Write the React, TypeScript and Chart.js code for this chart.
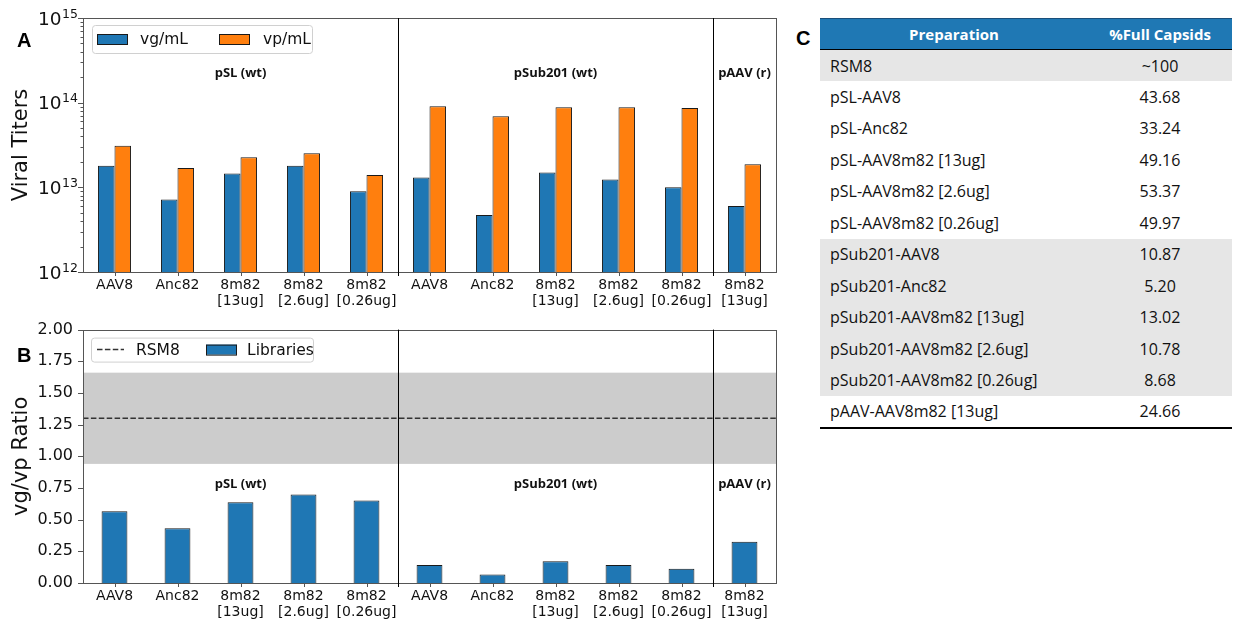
import React, { useEffect, useRef } from 'react';
import { Chart, registerables } from 'chart.js';
Chart.register(...registerables);

// ---------- data ----------
const categoryLabels: string[][] = [
  ['AAV8'], ['Anc82'], ['8m82', '[13ug]'], ['8m82', '[2.6ug]'], ['8m82', '[0.26ug]'],
  ['AAV8'], ['Anc82'], ['8m82', '[13ug]'], ['8m82', '[2.6ug]'], ['8m82', '[0.26ug]'],
  ['8m82', '[13ug]'],
];
const groupNames = ['pSL (wt)', 'pSub201 (wt)', 'pAAV (r)'];
const groupSizes = [5, 5, 1];

const vgPerMl = [1.8e13, 7.2e12, 1.46e13, 1.8e13, 9.0e12, 1.31e13, 4.7e12, 1.5e13, 1.24e13, 1.0e13, 6.0e12];
const vpPerMl = [3.1e13, 1.69e13, 2.27e13, 2.53e13, 1.4e13, 9.1e13, 6.9e13, 8.8e13, 8.8e13, 8.65e13, 1.87e13];
const vgVpRatio = [0.567, 0.433, 0.638, 0.698, 0.651, 0.142, 0.068, 0.171, 0.142, 0.113, 0.325];

const rsm8Label = 'RSM8';
const rsm8Ratio = 1.3;
const rsm8Low = 0.94;
const rsm8High = 1.66;

const titerTickExponents = [12, 13, 14, 15];
const ratioTickValues = [0, 0.25, 0.5, 0.75, 1.0, 1.25, 1.5, 1.75, 2.0];

const preparations = [
  'RSM8', 'pSL-AAV8', 'pSL-Anc82', 'pSL-AAV8m82 [13ug]', 'pSL-AAV8m82 [2.6ug]', 'pSL-AAV8m82 [0.26ug]',
  'pSub201-AAV8', 'pSub201-Anc82', 'pSub201-AAV8m82 [13ug]', 'pSub201-AAV8m82 [2.6ug]',
  'pSub201-AAV8m82 [0.26ug]', 'pAAV-AAV8m82 [13ug]',
];
const fullCapsids = ['~100', '43.68', '33.24', '49.16', '53.37', '49.97', '10.87', '5.20', '13.02', '10.78', '8.68', '24.66'];
const shadedRows = [true, false, false, false, false, false, true, true, true, true, true, false];

// ---------- style ----------
const FONT = "'DejaVu Sans', sans-serif";
const BLUE = '#1f77b4';
const ORANGE = '#ff7f0e';
const EDGE = '#1a1a1a';
const TEXT = '#111';

type LegendItem = { kind: 'box' | 'dash'; color: string; label: string; sx: number; sw: number; tx: number };
type DecorCfg = {
  logScale: boolean;
  groupLabelValue: number;
  legend: { dx: number; dy: number; w: number; h: number; items: LegendItem[] };
  band?: [number, number];
  dashed?: number;
};

function makeDecor(cfg: DecorCfg) {
  return {
    id: 'decor',
    beforeDatasetsDraw(chart: any) {
      const { ctx, chartArea } = chart;
      const y = chart.scales.y;
      if (cfg.band) {
        const yTop = y.getPixelForValue(cfg.band[1]);
        const yBot = y.getPixelForValue(cfg.band[0]);
        ctx.save();
        ctx.fillStyle = 'rgba(128,128,128,0.4)';
        ctx.fillRect(chartArea.left, yTop, chartArea.right - chartArea.left, yBot - yTop);
        ctx.restore();
      }
    },
    afterDraw(chart: any) {
      const { ctx, chartArea } = chart;
      const x = chart.scales.x;
      const y = chart.scales.y;
      const { left, right, top, bottom } = chartArea;
      ctx.save();

      if (cfg.dashed !== undefined) {
        const yy = y.getPixelForValue(cfg.dashed);
        ctx.strokeStyle = '#333';
        ctx.lineWidth = 1.5;
        ctx.setLineDash([5.5, 2.4]);
        ctx.beginPath();
        ctx.moveTo(left, yy);
        ctx.lineTo(right, yy);
        ctx.stroke();
        ctx.setLineDash([]);
      }

      // frame
      ctx.strokeStyle = '#555';
      ctx.lineWidth = 1;
      ctx.strokeRect(Math.round(left) + 0.5, Math.round(top) + 0.5, Math.round(right - left), Math.round(bottom - top));

      // y ticks
      ctx.beginPath();
      if (cfg.logScale) {
        const last = titerTickExponents[titerTickExponents.length - 1];
        for (let e = titerTickExponents[0]; e <= last; e++) {
          const py = Math.round(y.getPixelForValue(Math.pow(10, e))) + 0.5;
          ctx.moveTo(left - 5, py);
          ctx.lineTo(left, py);
          if (e < last) {
            for (let k = 2; k <= 9; k++) {
              const pm = Math.round(y.getPixelForValue(k * Math.pow(10, e))) + 0.5;
              ctx.moveTo(left - 2.5, pm);
              ctx.lineTo(left, pm);
            }
          }
        }
      } else {
        ratioTickValues.forEach((v) => {
          const py = Math.round(y.getPixelForValue(v)) + 0.5;
          ctx.moveTo(left - 5, py);
          ctx.lineTo(left, py);
        });
      }
      // x ticks
      categoryLabels.forEach((_, i) => {
        const px = Math.round(x.getPixelForValue(i)) + 0.5;
        ctx.moveTo(px, bottom);
        ctx.lineTo(px, bottom + 4);
      });
      ctx.stroke();

      if (cfg.logScale) {
        ctx.fillStyle = TEXT;
        ctx.textBaseline = 'alphabetic';
        ctx.textAlign = 'right';
        titerTickExponents.forEach((e) => {
          const py = y.getPixelForValue(Math.pow(10, e));
          const exp = String(e);
          ctx.font = `12.5px ${FONT}`;
          const ew = ctx.measureText(exp).width;
          const rx = left - 5;
          ctx.fillText(exp, rx, py - 0.5);
          ctx.font = `18.5px ${FONT}`;
          ctx.fillText('10', rx - ew - 0.5, py + 6.5);
        });
      }

      // group dividers + labels
      let start = 0;
      ctx.fillStyle = '#111';
      ctx.font = "bold 13px 'Open Sans', sans-serif";
      ctx.textAlign = 'center';
      ctx.textBaseline = 'middle';
      const ly = y.getPixelForValue(cfg.groupLabelValue);
      groupSizes.forEach((size, g) => {
        const end = start + size - 1;
        const cx = (x.getPixelForValue(start) + x.getPixelForValue(end)) / 2;
        ctx.fillText(groupNames[g], cx, ly);
        if (g < groupSizes.length - 1) {
          const dx = Math.round((x.getPixelForValue(end) + x.getPixelForValue(end + 1)) / 2) + 0.5;
          ctx.strokeStyle = '#000';
          ctx.lineWidth = 1;
          ctx.beginPath();
          ctx.moveTo(dx, top);
          ctx.lineTo(dx, bottom + 4);
          ctx.stroke();
        }
        start = end + 1;
      });

      // legend
      const L = cfg.legend;
      const lx = left + L.dx;
      const lyTop = top + L.dy;
      ctx.fillStyle = 'rgba(255,255,255,0.85)';
      ctx.strokeStyle = '#d0d0d0';
      ctx.lineWidth = 1;
      ctx.beginPath();
      (ctx as any).roundRect(lx + 0.5, lyTop + 0.5, L.w, L.h, 3);
      ctx.fill();
      ctx.stroke();
      const cy = lyTop + L.h / 2;
      ctx.font = `15.5px ${FONT}`;
      ctx.textAlign = 'left';
      ctx.textBaseline = 'middle';
      L.items.forEach((it) => {
        if (it.kind === 'box') {
          ctx.fillStyle = it.color;
          ctx.fillRect(lx + it.sx, cy - 5, it.sw, 10);
          ctx.strokeStyle = EDGE;
          ctx.strokeRect(lx + it.sx + 0.5, cy - 5 + 0.5, it.sw - 1, 10);
        } else {
          ctx.strokeStyle = it.color;
          ctx.lineWidth = 1.5;
          ctx.setLineDash([5.5, 2.4]);
          ctx.beginPath();
          ctx.moveTo(lx + it.sx, cy);
          ctx.lineTo(lx + it.sx + it.sw, cy);
          ctx.stroke();
          ctx.setLineDash([]);
          ctx.lineWidth = 1;
        }
        ctx.fillStyle = TEXT;
        ctx.fillText(it.label, lx + it.tx, cy + 1);
      });
      ctx.restore();
    },
  };
}

const xScale = (height: number) => ({
  grid: { display: false, drawTicks: false },
  border: { display: false },
  ticks: { font: { family: FONT, size: 14, lineHeight: 1.1 }, color: TEXT, padding: 6, maxRotation: 0, autoSkip: false },
  afterFit: (s: any) => { s.height = height; },
});

function TiterChart() {
  const ref = useRef<HTMLCanvasElement>(null);
  useEffect(() => {
    const chart = new Chart(ref.current!, {
      type: 'bar',
      data: {
        labels: categoryLabels as any,
        datasets: [
          { label: 'vg/mL', data: vgPerMl, backgroundColor: BLUE, borderColor: EDGE, borderWidth: 1, categoryPercentage: 0.525, barPercentage: 1 },
          { label: 'vp/mL', data: vpPerMl, backgroundColor: ORANGE, borderColor: EDGE, borderWidth: 1, categoryPercentage: 0.525, barPercentage: 1 },
        ],
      },
      options: {
        responsive: false,
        animation: false,
        layout: { padding: { top: 18, right: 14, left: 0, bottom: 0 } },
        plugins: { legend: { display: false }, tooltip: { enabled: false } },
        scales: {
          x: xScale(38) as any,
          y: {
            type: 'logarithmic',
            min: Math.pow(10, titerTickExponents[0]),
            max: Math.pow(10, titerTickExponents[titerTickExponents.length - 1]),
            grid: { display: false, drawTicks: false },
            border: { display: false },
            ticks: { display: false },
            title: { display: true, text: 'Viral Titers', font: { family: FONT, size: 21 }, color: TEXT, padding: { top: 9, bottom: 0 } },
            afterFit: (s: any) => { s.width = 83; },
          } as any,
        },
      },
      plugins: [
        makeDecor({
          logScale: true,
          groupLabelValue: 2.2e14,
          legend: {
            dx: 9, dy: 7, w: 220, h: 28,
            items: [
              { kind: 'box', color: BLUE, label: 'vg/mL', sx: 5, sw: 31, tx: 48 },
              { kind: 'box', color: ORANGE, label: 'vp/mL', sx: 127, sw: 31, tx: 171 },
            ],
          },
        }),
      ],
    });
    return () => chart.destroy();
  }, []);
  return <canvas ref={ref} width={790} height={310} style={{ display: 'block', width: 790, height: 310 }} />;
}

function RatioChart() {
  const ref = useRef<HTMLCanvasElement>(null);
  useEffect(() => {
    const chart = new Chart(ref.current!, {
      type: 'bar',
      data: {
        labels: categoryLabels as any,
        datasets: [
          { label: 'Libraries', data: vgVpRatio, backgroundColor: BLUE, borderColor: EDGE, borderWidth: 1, categoryPercentage: 0.41, barPercentage: 1 },
        ],
      },
      options: {
        responsive: false,
        animation: false,
        layout: { padding: { top: 19, right: 14, left: 0, bottom: 0 } },
        plugins: { legend: { display: false }, tooltip: { enabled: false } },
        scales: {
          x: xScale(40) as any,
          y: {
            min: 0,
            max: 2,
            grid: { display: false, drawTicks: false },
            border: { display: false },
            ticks: {
              stepSize: 0.25,
              autoSkip: false,
              font: { family: FONT, size: 16 },
              color: TEXT,
              padding: 10,
              callback: (v: any) => Number(v).toFixed(2),
            },
            title: { display: true, text: 'vg/vp Ratio', font: { family: FONT, size: 21 }, color: TEXT, padding: { top: 9, bottom: 0 } },
            afterFit: (s: any) => { s.width = 83; },
          } as any,
        },
      },
      plugins: [
        makeDecor({
          logScale: false,
          groupLabelValue: 0.78,
          band: [rsm8Low, rsm8High],
          dashed: rsm8Ratio,
          legend: {
            dx: 8, dy: 8, w: 222, h: 24,
            items: [
              { kind: 'dash', color: '#333', label: rsm8Label, sx: 6, sw: 27, tx: 45 },
              { kind: 'box', color: BLUE, label: 'Libraries', sx: 115, sw: 31, tx: 156 },
            ],
          },
        }),
      ],
    });
    return () => chart.destroy();
  }, []);
  return <canvas ref={ref} width={790} height={313} style={{ display: 'block', width: 790, height: 313 }} />;
}

const letterStyle = (left: number, top: number): React.CSSProperties => ({
  position: 'absolute', left, top, fontFamily: "'Liberation Sans', Arial, sans-serif", fontWeight: 700,
  fontSize: 20, lineHeight: '20px', color: '#000',
});

const cellFont = "'Open Sans', sans-serif";

export default function App() {
  return (
    <div style={{ position: 'absolute', left: 0, top: 0, width: 1235, height: 623, background: '#fff', overflow: 'hidden' }}>
      <div style={{ position: 'absolute', left: 0, top: 0 }}><TiterChart /></div>
      <div style={{ position: 'absolute', left: 0, top: 310 }}><RatioChart /></div>
      <div style={letterStyle(17, 30)}>A</div>
      <div style={letterStyle(17, 345)}>B</div>
      <div style={letterStyle(796, 28)}>C</div>
      <table style={{ position: 'absolute', left: 820, top: 18, width: 412, borderCollapse: 'collapse', fontFamily: cellFont, fontSize: 16, color: '#111', tableLayout: 'fixed' }}>
        <thead>
          <tr style={{ background: '#1f78b4', color: '#fff', height: 31 }}>
            <th style={{ width: 268, padding: 0, fontSize: 15, fontWeight: 700, textAlign: 'center', borderTop: '1px solid #1a4f7a', borderBottom: '1.5px solid #000' }}>Preparation</th>
            <th style={{ width: 144, padding: 0, fontSize: 15, fontWeight: 700, textAlign: 'center', borderTop: '1px solid #1a4f7a', borderBottom: '1.5px solid #000' }}>%Full Capsids</th>
          </tr>
        </thead>
        <tbody>
          {preparations.map((p, i) => {
            const last = i === preparations.length - 1;
            const bb = last ? '2.5px solid #000' : 'none';
            return (
              <tr key={p} style={{ height: 31.5, background: shadedRows[i] ? '#e6e6e6' : '#fff' }}>
                <td style={{ padding: '0 0 0 10px', borderBottom: bb, whiteSpace: 'nowrap' }}>{p}</td>
                <td style={{ padding: 0, textAlign: 'center', borderBottom: bb }}>{fullCapsids[i]}</td>
              </tr>
            );
          })}
        </tbody>
      </table>
    </div>
  );
}
